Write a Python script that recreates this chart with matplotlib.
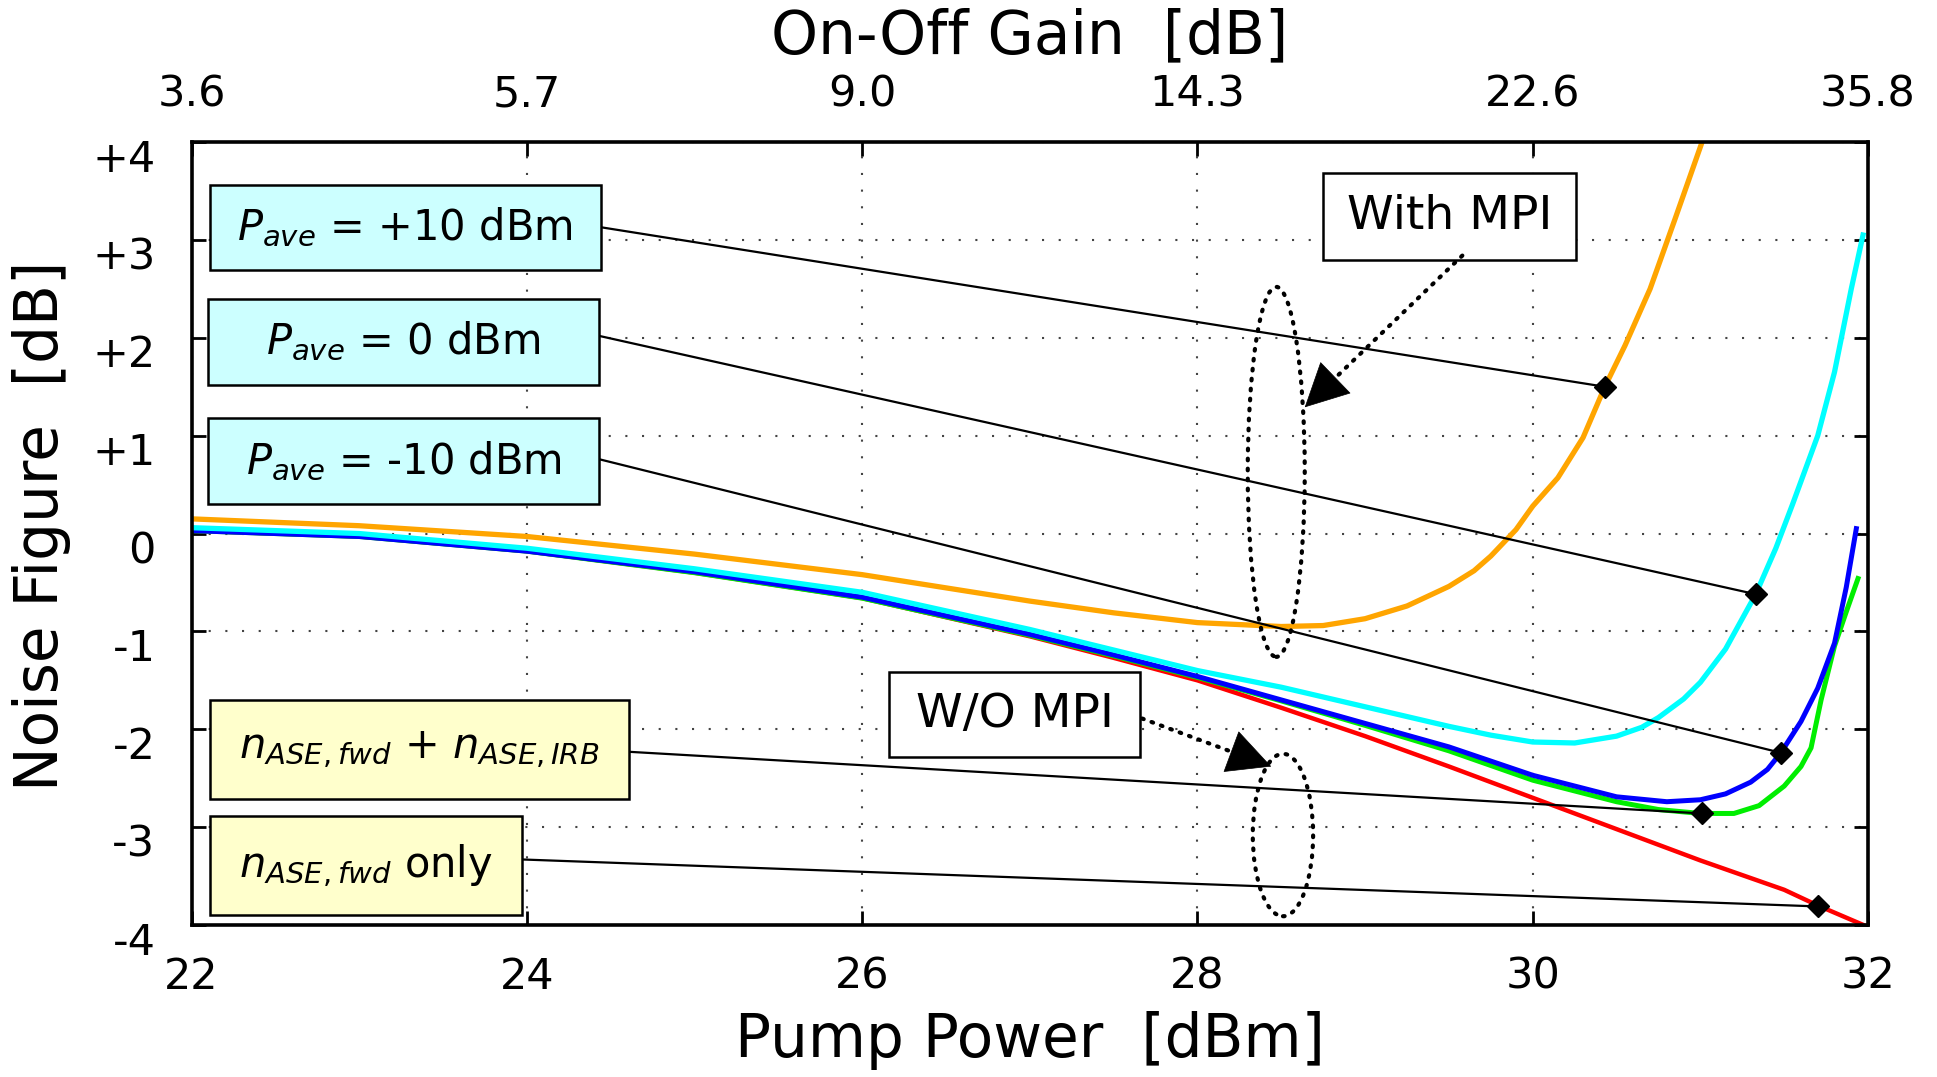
import matplotlib
matplotlib.use("Agg")
import matplotlib.pyplot as plt
import matplotlib.transforms as mtransforms
from matplotlib.patches import Rectangle, Ellipse, FancyArrowPatch

plt.rcParams['font.family'] = ['DejaVu Sans']
plt.rcParams['mathtext.fontset'] = 'dejavusans'

# ---------------- data ----------------
pump_ticks = [22, 24, 26, 28, 30, 32]
pump_labels = ["22", "24", "26", "28", "30", "32"]
gain_labels = ["3.6", "5.7", "9.0", "14.3", "22.6", "35.8"]
nf_ticks = [4, 3, 2, 1, 0, -1, -2, -3, -4]
nf_labels = ["+4", "+3", "+2", "+1", "0", "-1", "-2", "-3", "-4"]

# P_ave = +10 dBm (with MPI)
orange_x = [22.0, 23.0, 24.0, 25.0, 26.0, 27.0, 27.5, 28.0, 28.5, 28.75, 29.0, 29.25,
            29.5, 29.65, 29.75, 29.9, 30.0, 30.15, 30.3, 30.43, 30.55, 30.7, 30.85, 31.01]
orange_y = [0.15, 0.08, -0.03, -0.21, -0.42, -0.69, -0.81, -0.91, -0.95, -0.94, -0.87, -0.74,
            -0.54, -0.38, -0.23, 0.04, 0.28, 0.57, 0.98, 1.50, 1.92, 2.50, 3.22, 4.0]

# P_ave = 0 dBm (with MPI)
cyan_x = [22.0, 23.0, 24.0, 25.0, 26.0, 27.0, 27.5, 28.0, 28.5, 29.0, 29.5, 29.75, 30.0,
          30.25, 30.5, 30.65, 30.75, 30.9, 31.0, 31.15, 31.33, 31.45, 31.55, 31.7, 31.8,
          31.9, 31.97]
cyan_y = [0.06, 0.00, -0.15, -0.36, -0.60, -0.98, -1.19, -1.40, -1.57, -1.77, -1.97, -2.06, -2.13,
          -2.14, -2.07, -1.98, -1.88, -1.69, -1.52, -1.18, -0.62, -0.15, 0.30, 1.00, 1.65,
          2.50, 3.05]

# P_ave = -10 dBm (with MPI)
blue_x = [22.0, 23.0, 24.0, 25.0, 26.0, 27.0, 27.5, 28.0, 28.5, 29.0, 29.5, 30.0, 30.5,
          30.8, 31.0, 31.15, 31.3, 31.4, 31.48, 31.6, 31.7, 31.8, 31.87, 31.93]
blue_y = [0.03, -0.03, -0.18, -0.39, -0.65, -1.03, -1.24, -1.46, -1.70, -1.94, -2.18, -2.47, -2.69,
          -2.74, -2.72, -2.66, -2.54, -2.41, -2.24, -1.92, -1.58, -1.12, -0.55, 0.05]

# n_ASE,fwd + n_ASE,IRB (w/o MPI)
green_x = [22.0, 23.0, 24.0, 25.0, 26.0, 27.0, 27.5, 28.0, 28.5, 29.0, 29.5, 30.0, 30.5,
           30.75, 31.0, 31.2, 31.35, 31.5, 31.6, 31.66, 31.72, 31.8, 31.87, 31.94]
green_y = [0.03, -0.03, -0.18, -0.40, -0.66, -1.04, -1.25, -1.47, -1.71, -1.96, -2.22, -2.52, -2.74,
           -2.82, -2.86, -2.86, -2.78, -2.58, -2.38, -2.19, -1.70, -1.15, -0.80, -0.46]

# n_ASE,fwd only (w/o MPI)
red_x = [22.0, 23.0, 24.0, 25.0, 26.0, 27.0, 27.5, 28.0, 28.5, 29.0, 29.5, 30.0, 30.5,
         31.0, 31.5, 31.7, 32.0]
red_y = [0.03, -0.03, -0.18, -0.40, -0.66, -1.05, -1.27, -1.50, -1.78, -2.07, -2.38, -2.70, -3.02,
         -3.34, -3.64, -3.80, -4.02]

# diamond markers where the leader lines touch the curves
marker_x = [30.43, 31.33, 31.48, 31.01, 31.70]
marker_y = [1.50, -0.62, -2.24, -2.86, -3.81]

box_texts = [r"$P_{ave}$ = $\mathit{+10}$ dBm",
             r"$P_{ave}$ = $\mathit{0}$ dBm",
             r"$P_{ave}$ = -10 dBm",
             r"$n_{ASE,fwd}$ + $n_{ASE,IRB}$",
             r"$n_{ASE,fwd}$ only"]

# ---------------- layout ----------------
CYAN_BOX = "#ccffff"
YELLOW_BOX = "#ffffcc"
# (x0, y0, x1, y1) in data units, leader-line start y, face colour
box_layout = [(22.11, 2.69, 24.44, 3.56, 3.13, CYAN_BOX),
              (22.10, 1.52, 24.43, 2.40, 2.02, CYAN_BOX),
              (22.10, 0.30, 24.43, 1.18, 0.76, CYAN_BOX),
              (22.11, -2.71, 24.61, -1.70, -2.23, YELLOW_BOX),
              (22.11, -3.90, 23.97, -2.89, -3.33, YELLOW_BOX)]

fig = plt.figure(figsize=(19.37, 10.77), dpi=100)
ax = fig.add_axes([0.0989, 0.1411, 0.8655, 0.7270])

ax.plot(red_x, red_y, color="#ff0000", lw=3.2, zorder=3)
ax.plot(green_x, green_y, color="#00ee00", lw=3.6, zorder=3.1)
ax.plot(blue_x, blue_y, color="#0000ff", lw=3.6, zorder=3.2)
ax.plot(cyan_x, cyan_y, color="#00ffff", lw=3.8, zorder=3.3)
ax.plot(orange_x, orange_y, color="#ffa500", lw=3.8, zorder=3.4)

ax.set_xlim(22, 32)
ax.set_ylim(-4, 4)
ax.set_xticks(pump_ticks)
ax.set_xticklabels(pump_labels)
ax.set_yticks(nf_ticks)
ax.set_yticklabels(nf_labels)
ax.grid(True, linestyle=(0, (1, 7)), color="#444444", lw=1.5)
ax.tick_params(axis="both", direction="in", length=10, width=2, labelsize=31,
               top=False, right=True)
ax.tick_params(axis="x", pad=22)
ax.tick_params(axis="y", pad=26)
for s in ax.spines.values():
    s.set_linewidth(2.6)
    s.set_zorder(10)

ax2 = ax.twiny()
ax2.set_xlim(22, 32)
ax2.set_xticks(pump_ticks)
ax2.set_xticklabels(gain_labels)
ax2.tick_params(axis="x", direction="in", length=10, width=2, labelsize=31, pad=19)
for s in ax2.spines.values():
    s.set_visible(False)

# shift the y tick labels a little downwards, as in the picture
off = mtransforms.ScaledTranslation(0, -0.13, fig.dpi_scale_trans)
for lbl in ax.get_yticklabels():
    lbl.set_transform(lbl.get_transform() + off)

ax.set_xlabel("Pump Power  [dBm]", fontsize=43)
ax.xaxis.set_label_coords(0.5, -0.148)
ax.xaxis.label.set_va("center")
ax.set_ylabel("Noise Figure  [dB]", fontsize=43)
ax.yaxis.set_label_coords(-0.0898, 0.51)
ax.yaxis.label.set_va("center")
ax2.set_xlabel("On-Off Gain  [dB]", fontsize=43)
ax2.xaxis.set_label_coords(0.5, 1.134)
ax2.xaxis.label.set_va("center")

# label boxes and leader lines
for (x0, y0, x1, y1, ly, fc), txt, mx, my in zip(box_layout, box_texts, marker_x, marker_y):
    ax.add_patch(Rectangle((x0, y0), x1 - x0, y1 - y0, facecolor=fc, edgecolor="black",
                           lw=1.8, zorder=6))
    ax.text((x0 + x1) / 2, (y0 + y1) / 2, txt, ha="center", va="center", fontsize=30,
            zorder=7)
    ax.plot([x1, mx], [ly, my], color="black", lw=1.6, zorder=5)

ax.plot(marker_x, marker_y, linestyle="none", marker="D", ms=11, color="black", zorder=8)

# "With MPI" / "W/O MPI" callouts
ax.add_patch(Rectangle((28.75, 2.79), 30.26 - 28.75, 3.68 - 2.79, facecolor="white",
                       edgecolor="black", lw=1.8, zorder=6))
ax.text((28.75 + 30.26) / 2, (2.79 + 3.68) / 2, "With MPI", ha="center", va="center",
        fontsize=34, zorder=7)
ax.add_patch(Rectangle((26.16, -2.28), 27.66 - 26.16, -1.41 + 2.28, facecolor="white",
                       edgecolor="black", lw=1.8, zorder=6))
ax.text((26.16 + 27.66) / 2, (-2.28 - 1.41) / 2, "W/O MPI", ha="center", va="center",
        fontsize=34, zorder=7)

dots = (0, (0.4, 2.0))
for cx, cy, w, h in [(28.47, 0.63, 0.34, 3.78), (28.51, -3.08, 0.36, 1.66)]:
    e = Ellipse((cx, cy), w, h, fill=False, edgecolor="black", lw=3.0, linestyle=dots,
                zorder=6)
    e.set_capstyle("round")
    ax.add_patch(e)

for (sx, sy), (tx, ty) in [((29.58, 2.84), (28.64, 1.29)), ((27.67, -1.89), (28.44, -2.38))]:
    ln, = ax.plot([sx, tx], [sy, ty], color="black", lw=3.0, linestyle=dots, zorder=6)
    ln.set_dash_capstyle("round")
    bx = tx + 0.12 * (sx - tx)
    by = ty + 0.12 * (sy - ty)
    head = FancyArrowPatch((bx, by), (tx, ty),
                           arrowstyle="-|>,head_length=0.75,head_width=0.38",
                           mutation_scale=40, lw=0.5, color="black",
                           shrinkA=0, shrinkB=0, zorder=7)
    ax.add_patch(head)

fig.savefig("out.png", dpi=100)
